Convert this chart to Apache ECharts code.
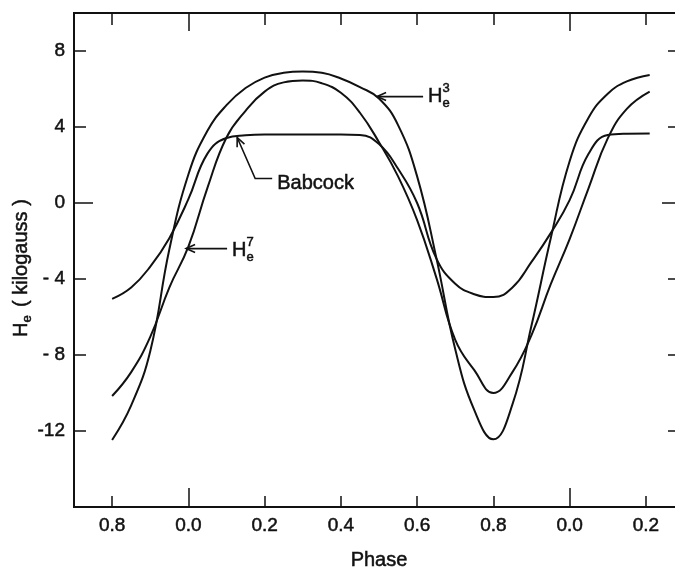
<!DOCTYPE html>
<html>
<head>
<meta charset="utf-8">
<script src="https://cdn.jsdelivr.net/npm/echarts@6/dist/echarts.min.js"></script>
<style>
  html, body { margin: 0; padding: 0; background: #fff; }
  #chart { width: 675px; height: 568px; }
</style>
</head>
<body>
<div id="chart"></div>
<script>
// phase runs past one cycle, so 1.0 is printed as 0.0 again
const phase = [-0.2, -0.15, -0.1, -0.05, 0, 0.05, 0.1, 0.15, 0.2, 0.25, 0.3, 0.35, 0.4, 0.45, 0.5,
  0.55, 0.6, 0.65, 0.7, 0.75, 0.8, 0.85, 0.9, 0.95, 1.0, 1.05, 1.1, 1.15, 1.21];
const he3 = [-12.47, -10.65, -7.8, -2.45, 1.5, 3.8, 5.15, 6.05, 6.6, 6.85, 6.92, 6.85, 6.55, 6.1, 5.5,
  4.1, 1.4, -2.85, -7.7, -10.9, -12.44, -10.6, -6.45, -1.9, 2.2, 4.5, 5.75, 6.4, 6.74];
const he7 = [-10.16, -8.9, -7.05, -4.45, -2.3, 0.8, 3.45, 4.85, 5.86, 6.35, 6.45, 6.3, 5.8, 4.75, 3.2,
  1.4, -0.9, -3.9, -7.2, -8.8, -10.0, -8.9, -6.95, -4.3, -1.9, 0.8, 3.4, 4.95, 5.86];
const babcock = [-5.05, -4.45, -3.35, -1.85, 0.2, 2.6, 3.42, 3.56, 3.6, 3.6, 3.6, 3.6, 3.6, 3.58, 3.1,
  1.8, 0.0, -2.9, -4.25, -4.8, -4.95, -4.45, -3.1, -1.6, 0.15, 2.6, 3.58, 3.65, 3.66];

const phaseTicks = [-0.2, 0, 0.2, 0.4, 0.6, 0.8, 1.0, 1.2];
const phaseTickLabels = ['0.8', '0.0', '0.2', '0.4', '0.6', '0.8', '0.0', '0.2'];
const phaseMajorTicks = [0, 1.0];
const fieldTicks = [-12, -8, -4, 0, 4, 8];
const fieldTickLabels = ['-12', '- 8', '- 4', '0', '4', '8'];
const fieldMajorTicks = [0];

const ink = '#111';
const fontFamily = '"Liberation Sans", Arial, Helvetica, sans-serif';
// the printed lettering is a little heavier than a plain regular face
const heavy = { textBorderColor: ink, textBorderWidth: 0.5 };

function pickLabel(ticks, labels) {
  return (value) => {
    const i = ticks.findIndex((t) => Math.abs(t - value) < 1e-6);
    return i >= 0 ? labels[i] : '';
  };
}

function phaseAxis(position, ticks, len, withLabels) {
  return {
    type: 'value',
    min: -0.3,
    max: 1.3,
    position: position,
    axisLine: { show: true, onZero: false, lineStyle: { color: ink, width: 2 } },
    axisTick: { show: true, inside: true, length: len, customValues: ticks, lineStyle: { color: ink, width: 1.5 } },
    axisLabel: withLabels
      ? Object.assign({
          show: true,
          customValues: phaseTicks,
          formatter: pickLabel(phaseTicks, phaseTickLabels),
          color: ink,
          fontSize: 19,
          fontFamily: fontFamily,
          margin: 9,
        }, heavy)
      : { show: false },
    splitLine: { show: false },
  };
}

function fieldAxis(position, ticks, len, withLabels) {
  return {
    type: 'value',
    min: -16,
    max: 10,
    position: position,
    axisLine: { show: true, onZero: false, lineStyle: { color: ink, width: 2 } },
    axisTick: { show: true, inside: true, length: len, customValues: ticks, lineStyle: { color: ink, width: 1.5 } },
    axisLabel: withLabels
      ? Object.assign({
          show: true,
          customValues: fieldTicks,
          formatter: pickLabel(fieldTicks, fieldTickLabels),
          color: ink,
          fontSize: 19,
          fontFamily: fontFamily,
          margin: 9,
        }, heavy)
      : { show: false },
    splitLine: { show: false },
  };
}

function curve(name, values) {
  return {
    name: name,
    type: 'line',
    xAxisIndex: 0,
    yAxisIndex: 0,
    data: phase.map((p, i) => [p, values[i]]),
    showSymbol: false,
    symbol: 'none',
    smooth: 0.45,
    lineStyle: { color: ink, width: 2 },
    silent: true,
  };
}

const chart = echarts.init(document.getElementById('chart'));

const bottomAxis = phaseAxis('bottom', phaseTicks, 11, true);
bottomAxis.name = 'Phase';
bottomAxis.nameLocation = 'middle';
bottomAxis.nameGap = 43;
bottomAxis.nameTextStyle = Object.assign({ color: ink, fontSize: 20, fontFamily: fontFamily }, heavy);

const option = {
  animation: false,
  backgroundColor: '#fff',
  grid: { left: 74, top: 13, width: 610, height: 494, containLabel: false, outerBoundsMode: 'none' },
  xAxis: [
    bottomAxis,
    phaseAxis('top', phaseTicks, 12, false),
    phaseAxis('bottom', phaseMajorTicks, 19, false),
    phaseAxis('top', phaseMajorTicks, 18, false),
  ],
  yAxis: [
    fieldAxis('left', fieldTicks, 12, true),
    fieldAxis('left', fieldMajorTicks, 19, false),
    fieldAxis('right', fieldTicks, 16, false),
    fieldAxis('right', fieldMajorTicks, 22, false),
  ],
  series: [curve('He3', he3), curve('He7', he7), curve('Babcock', babcock)],
};
chart.setOption(option);

// annotations: arrows anchored on the curves in data space
const toPx = (p) => chart.convertToPixel({ xAxisIndex: 0, yAxisIndex: 0 }, p);

function arrowHead(tip, from) {
  const dx = from[0] - tip[0];
  const dy = from[1] - tip[1];
  const d = Math.hypot(dx, dy);
  const ux = dx / d, uy = dy / d;
  const L = 9, W = 4;
  return {
    type: 'polyline',
    shape: { points: [[tip[0] + ux * L - uy * W, tip[1] + uy * L + ux * W], tip, [tip[0] + ux * L + uy * W, tip[1] + uy * L - ux * W]] },
    style: { stroke: ink, lineWidth: 1.6, fill: null },
  };
}

function txt(x, y, text, size) {
  return {
    type: 'text',
    x: x,
    y: y,
    style: Object.assign({ text: text, fontSize: size, fontFamily: fontFamily, fill: ink, align: 'left', verticalAlign: 'middle' },
      { stroke: ink, lineWidth: 0.5 }),
  };
}

function fieldLabel(x, y, sup) {
  return [txt(x, y, 'H', 20), txt(x + 14.5, y - 8, sup, 13), txt(x + 14.5, y + 7, 'e', 13)];
}

function arrowLabel(tipData, len, sup, dy) {
  const tip = toPx(tipData);
  const tail = [tip[0] + len, tip[1]];
  return [
    { type: 'polyline', shape: { points: [tip, tail] }, style: { stroke: ink, lineWidth: 1.6, fill: null } },
    arrowHead(tip, tail),
  ].concat(fieldLabel(tail[0] + 5, tip[1] + dy, sup));
}

const bTip = toPx([0.128, 3.45]);
const bElbow = [bTip[0] + 18, bTip[1] + 41];
const bEnd = [bTip[0] + 35, bTip[1] + 41];

const graphic = []
  .concat(arrowLabel([0.495, 5.6], 46, '3', 0))
  .concat(arrowLabel([-0.006, -2.4], 41, '7', 1.5))
  .concat([
    { type: 'polyline', shape: { points: [bTip, bElbow, bEnd] }, style: { stroke: ink, lineWidth: 1.6, fill: null } },
    arrowHead(bTip, bElbow),
    txt(bEnd[0] + 5, bTip[1] + 46, 'Babcock', 20),
  ])
  .concat([
    {
      type: 'group',
      x: 21,
      y: 337,
      rotation: Math.PI / 2,
      children: [
        txt(0, 0, 'H', 20),
        txt(14.5, 6, 'e', 13),
        txt(30, 0, '( kilogauss )', 20),
      ],
    },
  ]);

chart.setOption({ graphic: graphic });
</script>
</body>
</html>
